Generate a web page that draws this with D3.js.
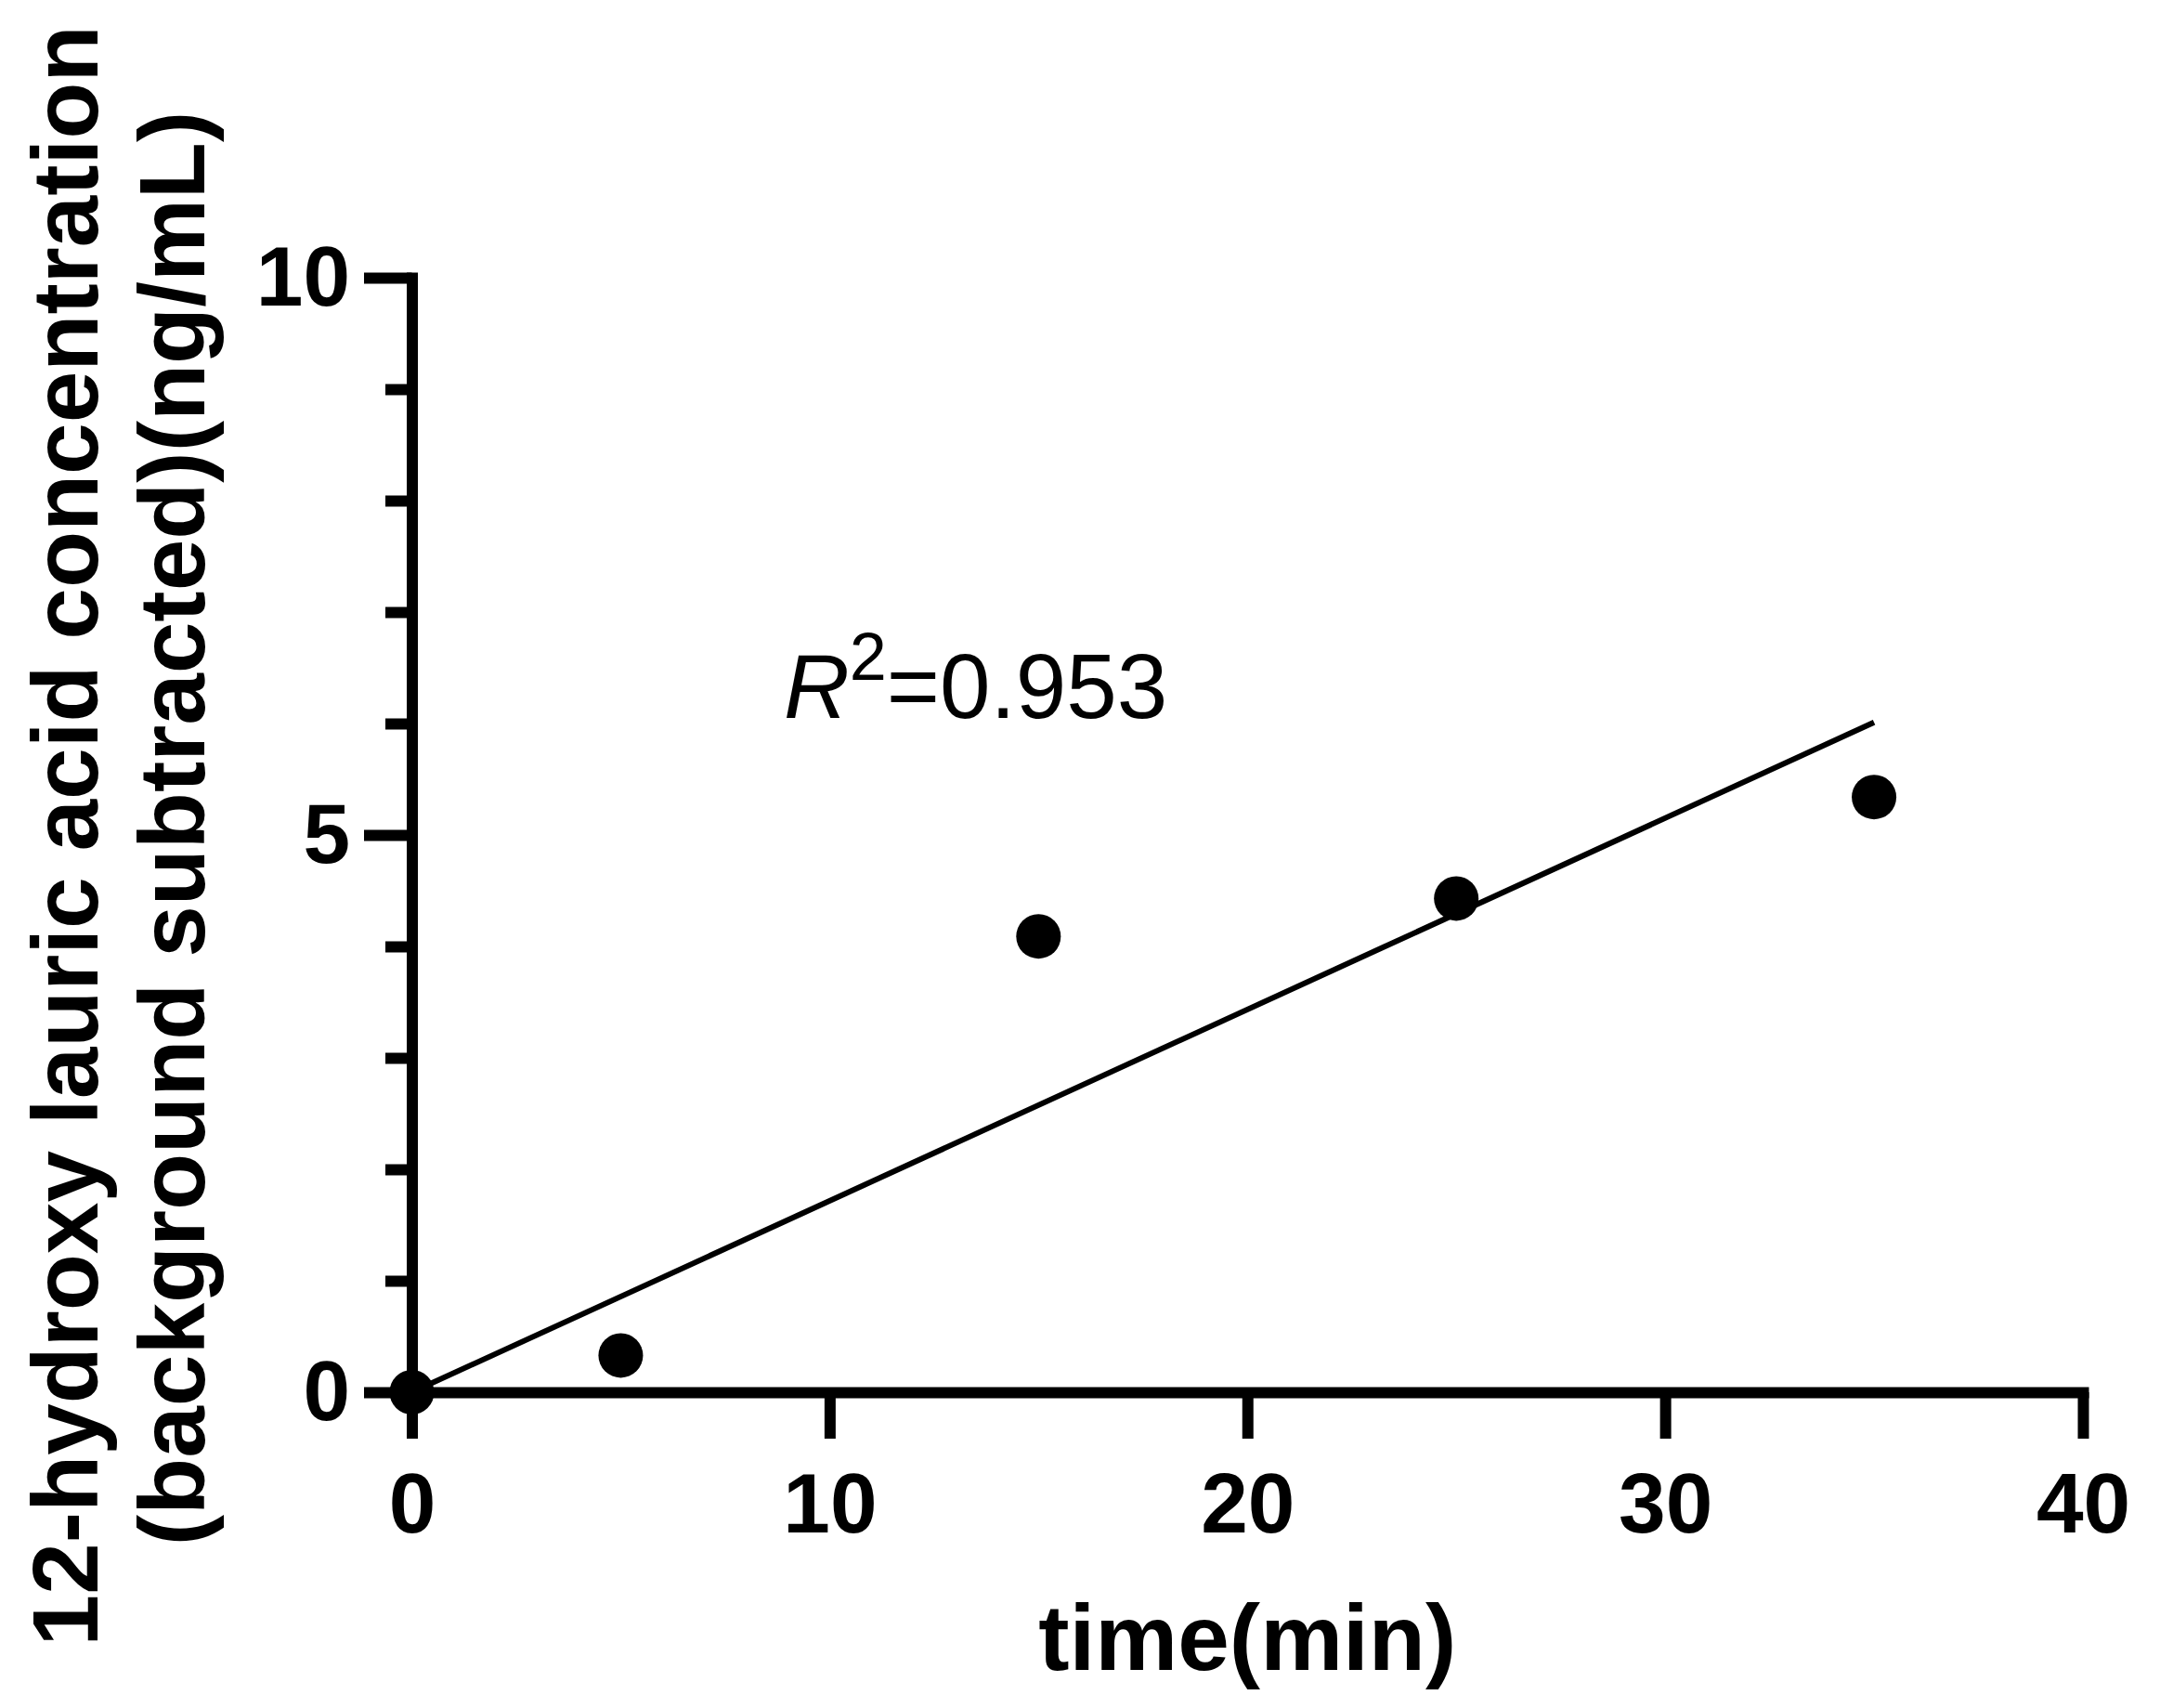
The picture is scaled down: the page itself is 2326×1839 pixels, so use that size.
<!DOCTYPE html>
<html>
<head>
<meta charset="utf-8">
<script src="https://cdn.jsdelivr.net/npm/d3@7"></script>
<style>
  body { margin: 0; background: #fff; }
  svg { display: block; font-family: "Liberation Sans", Arial, sans-serif; }
</style>
</head>
<body>
<div id="wrapper"></div>
<script>
// data
const timeMin = [0, 5, 15, 25, 35]
const concentration = [0, 0.33, 4.09, 4.43, 5.34]
// fitted line (through origin), end points
const fitTime = [0, 35]
const fitConc = [0, 6.01]
const xTicks = [0, 10, 20, 30, 40]
const yMajorTicks = [0, 5, 10]
const yMinorTicks = [1, 2, 3, 4, 6, 7, 8, 9]
const rSquaredLabel = "0.953"

// dimensions
const width = 2326
const height = 1839

const svg = d3.select("#wrapper")
  .append("svg")
  .attr("width", width)
  .attr("height", height)

// scales
const xScale = d3.scaleLinear()
  .domain([0, 40])
  .range([443.5, 2243])

const yScale = d3.scaleLinear()
  .domain([0, 10])
  .range([1499, 299])

// axes
const yAxisG = svg.append("g")
  .attr("transform", `translate(${xScale(0)},0)`)

// minor ticks first
yAxisG.append("g")
  .call(d3.axisLeft(yScale).tickValues(yMinorTicks).tickSize(28.5).tickFormat(""))
  .call(g => g.select(".domain").remove())

yAxisG.append("g")
  .call(d3.axisLeft(yScale).tickValues(yMajorTicks).tickSize(51.5).tickSizeOuter(0).tickPadding(15))
  .call(g => g.selectAll("text").attr("font-size", 91).attr("font-weight", "bold").attr("fill", "#000"))

const xAxisG = svg.append("g")
  .attr("transform", `translate(0,${yScale(0)})`)
  .call(d3.axisBottom(xScale).tickValues(xTicks).tickSize(50).tickSizeOuter(0).tickPadding(36))
  .call(g => g.selectAll("text").attr("font-size", 91).attr("font-weight", "bold").attr("fill", "#000"))

svg.selectAll(".tick line")
  .attr("stroke", "#000")
  .attr("stroke-width", 12)
svg.selectAll(".domain")
  .attr("stroke", "#000")
  .attr("stroke-width", 12)
  .attr("stroke-linecap", "square")

// fit line
const lineGenerator = d3.line()
  .x((d, i) => xScale(fitTime[i]))
  .y((d, i) => yScale(fitConc[i]))

svg.append("path")
  .attr("d", lineGenerator(fitTime))
  .attr("fill", "none")
  .attr("stroke", "#000")
  .attr("stroke-width", 6)

// points
svg.append("g")
  .selectAll("circle")
  .data(timeMin)
  .join("circle")
  .attr("cx", d => xScale(d))
  .attr("cy", (d, i) => yScale(concentration[i]))
  .attr("r", 24)
  .attr("fill", "#000")

// R squared annotation
const rText = svg.append("text")
  .attr("x", xScale(8.9))
  .attr("y", yScale(6.05))
  .attr("font-size", 98)
  .attr("fill", "#000")
rText.append("tspan").attr("font-style", "italic").text("R")
rText.append("tspan").attr("font-size", 72).attr("dy", -41).text("2")
rText.append("tspan").attr("dy", 41).text("=" + rSquaredLabel)

// axis titles
svg.append("text")
  .attr("x", (xScale(0) + xScale(40)) / 2)
  .attr("y", 1798)
  .attr("text-anchor", "middle")
  .attr("font-size", 100)
  .attr("font-weight", "bold")
  .text("time(min)")

const yTitle = svg.append("text")
  .attr("transform", "rotate(-90)")
  .attr("text-anchor", "middle")
  .attr("font-size", 100)
  .attr("font-weight", "bold")
yTitle.append("tspan")
  .attr("x", -900)
  .attr("y", 105)
  .text("12-hydroxy lauric acid concentration")
yTitle.append("tspan")
  .attr("x", -892)
  .attr("y", 220)
  .text("(background subtracted)(ng/mL)")
</script>
</body>
</html>
